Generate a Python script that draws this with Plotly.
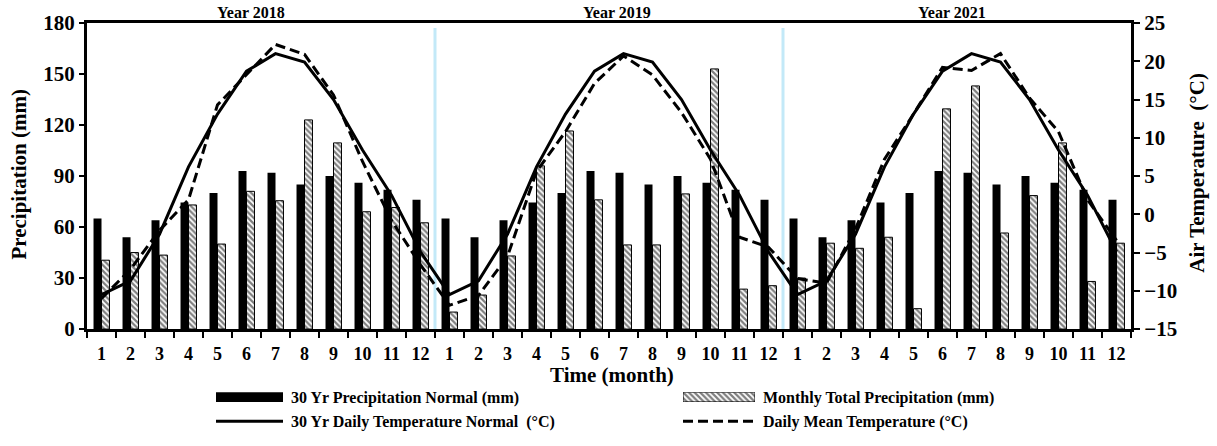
import plotly.graph_objects as go

# Monthly categories for three years
years = ["2018", "2019", "2021"]
months = list(range(1, 13))

# 30-year precipitation normal (mm), same each year
precip_normal = [65, 54, 64, 74.5, 80, 93, 92, 85, 90, 86, 82, 76]

# Monthly total precipitation (mm)
precip_2018 = [40.5, 45, 43.5, 73, 50, 81, 75.5, 123, 109.5, 69, 71.5, 62.5]
precip_2019 = [10, 20, 43, 96, 116.5, 76, 49.5, 49.5, 79.5, 153, 23.5, 25.5]
precip_2021 = [30, 50.5, 47.5, 54, 12, 129.5, 143, 56.5, 78.5, 109.5, 28, 50.5]

# 30-year daily temperature normal (°C)
temp_normal = [-10.5, -8.7, -2.6, 6.2, 13.1, 18.7, 21.0, 19.9, 15.0, 8.4, 2.5, -4.9]

# Daily mean temperature (°C)
temp_2018 = [-11.0, -7.2, -2.1, 1.9, 14.3, 18.2, 22.2, 20.9, 15.6, 6.9, -0.8, -6.6]
temp_2019 = [-11.9, -10.6, -5.5, 5.6, 10.8, 17.1, 20.7, 18.2, 13.3, 7.2, -3.0, -4.3]
temp_2021 = [-8.4, -9.0, -1.9, 7.2, 13.1, 19.2, 18.8, 21.0, 15.2, 10.8, 1.9, -3.4]

tick_labels = [str(m) for m in months] * len(years)
x = list(range(1, len(tick_labels) + 1))

normal_all = precip_normal * len(years)
monthly_all = precip_2018 + precip_2019 + precip_2021
tnormal_all = temp_normal * len(years)
tmean_all = temp_2018 + temp_2019 + temp_2021

SERIF = "Liberation Serif"
W, H = 1217, 446
L, R, T, B = 87, 86, 23, 0
PLOT_BOTTOM = 338  # pixel row of the x axis


def px_x(p):
    return (p - L) / (W - L - R)


def px_y(p):
    return (H - B - p) / (H - T - B)


hatch = dict(shape="\\", size=4, solidity=0.55,
             fgcolor="black", bgcolor="white", fillmode="overlay")

fig = go.Figure()

fig.add_trace(go.Bar(
    x=x, y=normal_all, name="30 Yr Precipitation Normal (mm)",
    marker=dict(color="black", line=dict(width=0)),
    showlegend=False,
))
fig.add_trace(go.Bar(
    x=x, y=monthly_all, name="Monthly Total Precipitation (mm)",
    marker=dict(color="white", line=dict(color="black", width=1), pattern=hatch),
    showlegend=False,
))
fig.add_trace(go.Scatter(
    x=x, y=tnormal_all, yaxis="y2", mode="lines",
    name="30 Yr Daily Temperature Normal (°C)",
    line=dict(color="black", width=3),
    showlegend=False,
))
fig.add_trace(go.Scatter(
    x=x, y=tmean_all, yaxis="y2", mode="lines",
    name="Daily Mean Temperature (°C)",
    line=dict(color="black", width=3, dash="10px,5px"),
    showlegend=False,
))

# Hatched swatch for the legend, drawn with the same pattern on its own tiny axes
fig.add_trace(go.Bar(
    x=[1], y=[0], orientation="h", width=1, xaxis="x3", yaxis="y3",
    marker=dict(color="white", line=dict(color="black", width=1), pattern=hatch),
    showlegend=False, hoverinfo="skip",
))

bold = dict(family=SERIF, color="black", weight="bold")

fig.update_layout(
    width=W, height=H,
    margin=dict(l=L, r=R, t=T, b=B, pad=0),
    paper_bgcolor="white", plot_bgcolor="white",
    barmode="group", bargap=0.45, bargroupgap=0,
    showlegend=False,
    xaxis=dict(
        range=[0.5, len(x) + 0.5],
        tickmode="array", tickvals=x, ticktext=tick_labels,
        ticks="", tickfont=dict(size=18, **bold), ticklabelstandoff=6,
        showline=True, linecolor="black", linewidth=3, mirror=True,
        showgrid=False, zeroline=False,
        minor=dict(tickmode="linear", tick0=0.5, dtick=1, ticks="outside",
                   ticklen=6, tickwidth=2, tickcolor="black", showgrid=False),
        anchor="y",
    ),
    yaxis=dict(
        domain=[px_y(PLOT_BOTTOM), 1],
        range=[0, 180], tickmode="linear", tick0=0, dtick=30,
        ticks="outside", ticklen=5, tickwidth=2, tickcolor="black",
        tickfont=dict(size=21, **bold),
        showline=True, linecolor="black", linewidth=3,
        showgrid=False, zeroline=False,
    ),
    yaxis2=dict(
        overlaying="y", side="right",
        range=[-15, 25], tickmode="linear", tick0=-15, dtick=5,
        ticks="outside", ticklen=6, tickwidth=2, tickcolor="black",
        tickfont=dict(size=21, **bold),
        showline=True, linecolor="black", linewidth=3,
        showgrid=False, zeroline=False,
    ),
    xaxis3=dict(domain=[px_x(683), px_x(755)], range=[0, 1], visible=False,
                anchor="y3", fixedrange=True),
    yaxis3=dict(domain=[px_y(413), px_y(403)], range=[-0.5, 0.5], visible=False,
                anchor="x3", fixedrange=True),
)

# Year separators
shapes = []
for b in (12.5, 24.5):
    shapes.append(dict(type="line", xref="x", yref="y", x0=b, x1=b, y0=0, y1=177,
                       line=dict(color="#c3e9f8", width=3), layer="below"))

# Legend swatches
shapes.append(dict(type="rect", xref="paper", yref="paper",
                   x0=px_x(216), x1=px_x(283), y0=px_y(413), y1=px_y(403),
                   fillcolor="black", line=dict(width=0)))
shapes.append(dict(type="line", xref="paper", yref="paper",
                   x0=px_x(216), x1=px_x(283), y0=px_y(433), y1=px_y(433),
                   line=dict(color="black", width=3)))
shapes.append(dict(type="line", xref="paper", yref="paper",
                   x0=px_x(683), x1=px_x(755), y0=px_y(433), y1=px_y(433),
                   line=dict(color="black", width=3, dash="10px,5px")))
fig.update_layout(shapes=shapes)

ann = []
for i, yr in enumerate(years):
    ann.append(dict(text=f"Year {yr}", xref="x", yref="paper",
                    x=6.5 + 12 * i, y=1, xanchor="center", yanchor="bottom",
                    xshift=[-10, 8, -5][i], showarrow=False,
                    font=dict(size=16, **bold)))

ann.append(dict(text="Time (month)", xref="paper", yref="paper",
                x=px_x(612), y=px_y(385), xanchor="center", yanchor="middle",
                showarrow=False, font=dict(size=21, **bold)))
ann.append(dict(text="Precipitation (mm)", xref="paper", yref="paper",
                x=px_x(19), y=px_y(179), xanchor="center", yanchor="middle",
                textangle=-90, showarrow=False, font=dict(size=21, **bold)))
ann.append(dict(text="Air Temperature\u00a0\u00a0(°C)", xref="paper", yref="paper",
                x=px_x(1197), y=px_y(177), xanchor="center", yanchor="middle",
                textangle=-90, showarrow=False, font=dict(size=21, **bold)))

legend_text = [
    ("30 Yr Precipitation Normal (mm)", 289, 409),
    ("Monthly Total Precipitation (mm)", 761, 409),
    ("30 Yr Daily Temperature Normal\u00a0\u00a0(°C)", 289, 434),
    ("Daily Mean Temperature (°C)", 761, 434),
]
for txt, lx, ly in legend_text:
    ann.append(dict(text=txt, xref="paper", yref="paper", x=px_x(lx), y=px_y(ly),
                    xanchor="left", yanchor="middle", showarrow=False,
                    font=dict(size=16, **bold)))

fig.update_layout(annotations=ann)

fig.write_html("out.html")
